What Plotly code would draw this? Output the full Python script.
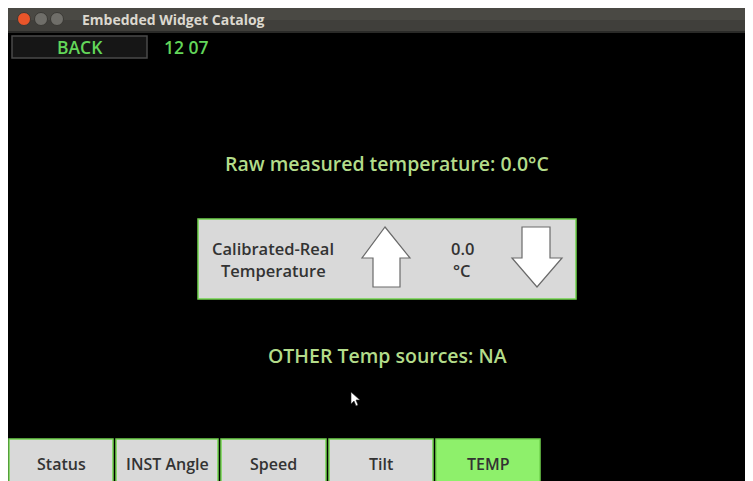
import plotly.graph_objects as go

# ---- content ----
window_title = "Embedded Widget Catalog"
back_label = "BACK"
clock_text = "12 07"
raw_temp = 0.0
calib_temp = 0.0
other_sources = "NA"
calib_label = ["Calibrated-Real", "Temperature"]
tab_labels = ["Status", "INST Angle", "Speed", "Tilt", "TEMP"]
active_tab = "TEMP"

W, H = 753, 481
OFF = 8  # page body margin
FONT = "Open Sans"
GREEN_TXT = "#b3dc8a"
TAB_GREEN = "#8ef06b"
BORDER_GREEN = "#72d44e"

fig = go.Figure()
shapes = []
ann = []

def rect(x0, y0, x1, y1, fill, line=None, lw=0, layer="below"):
    shapes.append(dict(type="rect", x0=x0, y0=y0, x1=x1, y1=y1, fillcolor=fill,
                       line=dict(color=line or fill, width=lw), layer=layer))

def text(x, y, s, size, color, weight=600, xanchor="center"):
    ann.append(dict(x=x, y=y, text=s, showarrow=False,
                    font=dict(family=FONT, size=size, color=color, weight=weight),
                    xanchor=xanchor, yanchor="middle"))

# window body
rect(8, 5, W + 2, H + 2, "#000000")
# title bar (gradient approximated)
rect(8, 5, W + 2, 20, "#4a4944")
rect(8, 20, W + 2, 31, "#403f3b")
rect(8, 31, W + 2, 33, "#2a2a28")
for cx, col in [(24, "#e9552a"), (41, "#6f6e69"), (57, "#6f6e69")]:
    shapes.append(dict(type="circle", x0=cx - 6.5, y0=12.5, x1=cx + 6.5, y1=25.5,
                       fillcolor=col, line=dict(color="#3a3935", width=1)))
text(80, 19, window_title, 14, "#dcd8cf", weight=700, xanchor="left")

# back button + clock
rect(12, 36, 147, 58, "#161616", "#4a4a4a", 1.5)
text(80, 47, back_label, 17.5, "#63d65a")
text(162, 47, clock_text, 17.5, "#63d65a", xanchor="left")

# raw measured temperature
text(387, 163, f"Raw measured temperature: {raw_temp:.1f}°C", 19.5, GREEN_TXT)

# calibration box
rect(198, 219, 576, 299, "#d9d9d9", BORDER_GREEN, 1.5)
text(273, 248, calib_label[0], 16.5, "#333333")
text(273, 270, calib_label[1], 16.5, "#333333")
text(462, 248, f"{calib_temp:.1f}", 16.5, "#333333")
text(462, 270, "°C", 16.5, "#333333")

# arrows
shapes.append(dict(type="path",
                   path="M 385 227 L 410 258 L 400 258 L 400 287 L 373 287 L 373 258 L 362 258 Z",
                   fillcolor="#ffffff", line=dict(color="#6a6a6a", width=1.2)))
shapes.append(dict(type="path",
                   path="M 522 227 L 550 227 L 550 258 L 562 258 L 537 287 L 512 258 L 522 258 Z",
                   fillcolor="#ffffff", line=dict(color="#6a6a6a", width=1.2)))

# other sources
text(387, 355, f"OTHER Temp sources: {other_sources}", 19.5, GREEN_TXT)

# mouse cursor
shapes.append(dict(type="path",
                   path="M 351 392 L 351 404 L 354 401 L 356 406 L 358 405 L 356 400 L 360 400 Z",
                   fillcolor="#ffffff", line=dict(color="#222222", width=0.6)))

# tabs
tab_x = [(9, 113), (116, 218), (221, 326), (329, 433), (436, 540)]
for (x0, x1), lab in zip(tab_x, tab_labels):
    fill = TAB_GREEN if lab == active_tab else "#d9d9d9"
    rect(x0, 439, x1, H + 3, fill, BORDER_GREEN, 1.5)
    text((x0 + x1) / 2, 464, lab, 16, "#333333")

fig.update_layout(
    width=W - OFF, height=H - OFF, margin=dict(l=0, r=0, t=0, b=0),
    paper_bgcolor="#000000", plot_bgcolor="#000000",
    xaxis=dict(range=[OFF, W], visible=False, fixedrange=True),
    yaxis=dict(range=[H, OFF], visible=False, fixedrange=True),
    shapes=shapes, annotations=ann, showlegend=False,
)
fig.write_html("out.html")
